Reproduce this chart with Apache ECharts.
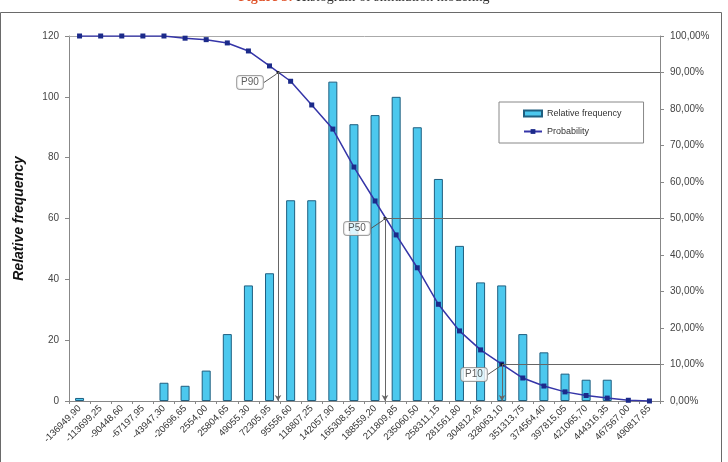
<!DOCTYPE html>
<html>
<head>
<meta charset="utf-8">
<script src="https://cdn.jsdelivr.net/npm/echarts@6/dist/echarts.min.js"></script>
<style>
  html, body { margin: 0; padding: 0; background: #fff; }
  #chart { width: 728px; height: 462px; }
</style>
</head>
<body>
<div id="chart"></div>
<script>
// classes of the histogram (bottom labels, comma decimal as in the source)
const catLabels = ['-136949,90', '-113699,25', '-90448,60', '-67197,95', '-43947,30', '-20696,65',
  '2554,00', '25804,65', '49055,30', '72305,95', '95556,60', '118807,25', '142057,90', '165308,55',
  '188559,20', '211809,85', '235060,50', '258311,15', '281561,80', '304812,45', '328063,10',
  '351313,75', '374564,40', '397815,05', '421065,70', '444316,35', '467567,00', '490817,65']
// relative frequency (bars, left axis)
const freq = [1, 0, 0, 0, 6, 5, 10, 22, 38, 42, 66, 66, 105, 91, 94, 100, 90, 73, 51, 39, 38, 22, 16, 9, 7, 7, 0, 0]
// exceedance probability (line, right axis)
const prob = [1, 1, 1, 1, 1, 0.994, 0.99, 0.981, 0.959, 0.918, 0.876, 0.811, 0.745, 0.641, 0.548, 0.455,
  0.365, 0.265, 0.192, 0.14, 0.101, 0.063, 0.041, 0.025, 0.015, 0.008, 0.002, 0]
// P90 / P50 / P10 markers
const pNames = ['P90', 'P50', 'P10']
const pX = [81650, 199500, 328400]
const pY = [0.9, 0.5, 0.1]

const catValues = catLabels.map(s => parseFloat(s.replace(',', '.')))
const step = catValues[1] - catValues[0]
const xMin = catValues[0] - step / 2
const xMax = catValues[catValues.length - 1] + step / 2

const chart = echarts.init(document.getElementById('chart'), null, { renderer: 'canvas' })

const markLines = []
pX.forEach((x, i) => {
  markLines.push([{ coord: [x, pY[i]], symbol: 'none' }, { coord: [xMax, pY[i]], symbol: 'none' }])
  markLines.push([{ coord: [x, pY[i]], symbol: 'none' }, { coord: [x, 0], symbol: 'arrow', symbolSize: [5, 6] }])
})

const option = {
  animation: false,
  textStyle: { fontFamily: 'Liberation Sans, Arial, sans-serif' },
  graphic: [
    {
      type: 'rect', shape: { x: 0.5, y: 12.5, width: 721, height: 470 }, silent: true,
      style: { fill: 'none', stroke: '#6a6a6a', lineWidth: 1 }
    },
    {
      type: 'text', x: 364, y: -10, silent: true,
      style: {
        text: '{a|Figure 5:} {b|Histogram of simulation modeling}', align: 'center',
        rich: {
          a: { fontSize: 14, fontFamily: 'Liberation Serif', fontWeight: 'bold', fill: '#e0562e' },
          b: { fontSize: 14, fontFamily: 'Liberation Serif', fill: '#333' }
        }
      }
    }
  ],
  legend: {
    orient: 'vertical', left: 499, top: 102,
    padding: [7, 22, 7, 24], itemGap: 9, itemWidth: 18, itemHeight: 6,
    borderColor: '#888', borderWidth: 1, borderRadius: 0,
    textStyle: { fontSize: 9, color: '#333' },
    data: [
      { name: 'Relative frequency', icon: 'rect' },
      { name: 'Probability' }
    ]
  },
  grid: { left: 69, right: 68, top: 36, bottom: 61 },
  xAxis: [
    {
      type: 'category', data: catLabels, boundaryGap: true,
      axisLine: { lineStyle: { color: '#888' } },
      axisTick: { show: true, length: 3, lineStyle: { color: '#888' } },
      axisLabel: { rotate: 45, fontSize: 9.5, color: '#333', margin: 6, interval: 0 }
    },
    {
      type: 'value', position: 'top', min: xMin, max: xMax,
      axisLine: { show: true, onZero: false, lineStyle: { color: '#aaa' } },
      axisTick: { show: false }, axisLabel: { show: false }, splitLine: { show: false }
    }
  ],
  yAxis: [
    {
      type: 'value', min: 0, max: 120, interval: 20,
      name: 'Relative frequency', nameLocation: 'middle', nameGap: 43, nameRotate: 90,
      nameTextStyle: { fontSize: 14, fontWeight: 'bold', fontStyle: 'italic', color: '#111' },
      axisLine: { show: true, onZero: false, lineStyle: { color: '#888' } },
      axisTick: { show: true, length: 4, lineStyle: { color: '#888' } },
      axisLabel: { fontSize: 10, color: '#444', margin: 10 },
      splitLine: { show: false }
    },
    {
      type: 'value', min: 0, max: 1, interval: 0.1, position: 'right',
      axisLine: { show: true, onZero: false, lineStyle: { color: '#888' } },
      axisTick: { show: true, length: 4, lineStyle: { color: '#888' } },
      axisLabel: {
        fontSize: 10, color: '#444', margin: 10,
        formatter: v => (v * 100).toFixed(2).replace('.', ',') + '%'
      },
      splitLine: { show: false }
    }
  ],
  series: [
    {
      name: 'Relative frequency', type: 'bar', barWidth: 9,
      // empty classes draw no bar at all
      data: freq.map(v => (v === 0 ? null : v)),
      itemStyle: { color: '#4cc8ee', borderColor: '#1f5f80', borderWidth: 1 }
    },
    {
      name: 'Probability', type: 'line', data: prob, yAxisIndex: 1,
      symbol: 'rect', symbolSize: 5, showSymbol: true,
      itemStyle: { color: '#1b2a8a' },
      lineStyle: { color: '#3535a8', width: 1.5 },
      z: 3
    },
    {
      name: 'markers', type: 'scatter', xAxisIndex: 1, yAxisIndex: 1,
      data: pX.map((x, i) => [x, pY[i]]),
      symbol: 'rect', symbolSize: 3, itemStyle: { color: '#111' }, z: 4,
      label: {
        show: true, position: 'inside', formatter: p => pNames[p.dataIndex],
        fontSize: 10, color: '#333', backgroundColor: '#fff',
        borderColor: '#888', borderWidth: 1, borderRadius: 3, padding: [2, 4, 1, 4]
      },
      labelLayout: { dx: -28, dy: 10 },
      labelLine: { show: true, lineStyle: { color: '#555', width: 1 } },
      markLine: {
        silent: true, symbol: ['none', 'none'], label: { show: false },
        lineStyle: { color: '#666', width: 1, type: 'solid' },
        data: markLines
      }
    }
  ]
}
chart.setOption(option)
</script>
</body>
</html>
